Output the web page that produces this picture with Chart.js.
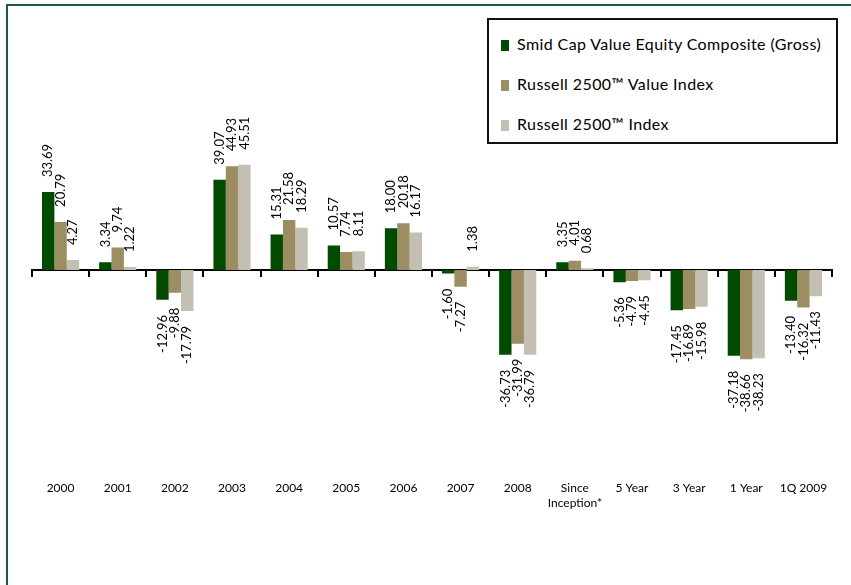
<!DOCTYPE html>
<html>
<head>
<meta charset="utf-8">
<script src="https://cdn.jsdelivr.net/npm/chart.js@4.4.1/dist/chart.umd.min.js"></script>
<style>
  html, body { margin: 0; padding: 0; background: #fff; }
  #wrap { position: relative; width: 851px; height: 585px; overflow: hidden; }
  #frame {
    position: absolute; left: 6px; top: 4px; right: -10px; bottom: -10px;
    border-left: 2px solid #1d5a46; border-top: 2px solid #1d5a46;
  }
  #legend {
    position: absolute; left: 487px; top: 18px; width: 347px; height: 122px;
    border: 2px solid #111; background: #fff;
    font-family: Lato, "Open Sans", sans-serif; font-size: 16px; letter-spacing: 0.4px; color: #000;
  }
  .item { position: absolute; left: 12px; height: 16px; line-height: 16px; white-space: nowrap; }
  .item span.box { display: inline-block; width: 8px; height: 11px; margin-right: 8px; vertical-align: -1px; }
  canvas { position: absolute; left: 0; top: 0; }
</style>
</head>
<body>
<div id="wrap">
  <div id="frame"></div>
  <canvas id="chart" width="851" height="585"></canvas>
  <div id="legend"></div>
</div>
<script>
const periods = ["2000", "2001", "2002", "2003", "2004", "2005", "2006", "2007", "2008",
  ["Since", "Inception*"], "5 Year", "3 Year", "1 Year", "1Q 2009"];
const composite = [33.69, 3.34, -12.96, 39.07, 15.31, 10.57, 18.00, -1.60, -36.73, 3.35, -5.36, -17.45, -37.18, -13.40];
const valueIndex = [20.79, 9.74, -9.88, 44.93, 21.58, 7.74, 20.18, -7.27, -31.99, 4.01, -4.79, -16.89, -38.66, -16.32];
const fullIndex = [4.27, 1.22, -17.79, 45.51, 18.29, 8.11, 16.17, 1.38, -36.79, 0.68, -4.45, -15.98, -38.23, -11.43];

const seriesNames = ["Smid Cap Value Equity Composite (Gross)", "Russell 2500\u2122 Value Index", "Russell 2500\u2122 Index"];
const seriesColors = ["#004b00", "#9d8d62", "#c3bfb3"];

// vertical value labels above / below each bar
const barLabels = {
  id: "barLabels",
  afterDatasetsDraw(chart) {
    const c = chart.ctx;
    const gap = 15;
    c.save();
    c.font = "13px Lato, 'Open Sans', sans-serif";
    c.fillStyle = "#000";
    c.textBaseline = "middle";
    chart.data.datasets.forEach((ds, i) => {
      chart.getDatasetMeta(i).data.forEach((bar, j) => {
        const v = ds.data[j];
        c.save();
        c.translate(bar.x, bar.y);
        c.rotate(-Math.PI / 2);
        if (v >= 0) {
          c.textAlign = "left";
          c.fillText(v.toFixed(2), gap, 0);
        } else {
          c.textAlign = "right";
          c.fillText(v.toFixed(2), -gap, 0);
        }
        c.restore();
      });
    });
    c.restore();
  }
};

const chart = new Chart(document.getElementById("chart"), {
  type: "bar",
  plugins: [barLabels],
  data: {
    labels: periods,
    datasets: [
      { label: seriesNames[0], data: composite, backgroundColor: seriesColors[0] },
      { label: seriesNames[1], data: valueIndex, backgroundColor: seriesColors[1] },
      { label: seriesNames[2], data: fullIndex, backgroundColor: seriesColors[2] },
    ],
  },
  options: {
    responsive: false,
    animation: false,
    categoryPercentage: 0.65,
    barPercentage: 1.0,
    layout: {
      padding: { left: 32, right: 19, top: 39, bottom: 68 },
    },
    plugins: {
      legend: { display: false },
      tooltip: { enabled: false },
    },
    scales: {
      y: {
        display: false,
        min: -85,
        max: 100,
      },
      x: {
        position: { y: 0 },
        grid: {
          drawOnChartArea: false,
          drawTicks: true,
          tickLength: 6,
          color: "#000",
          lineWidth: 2,
          offset: true,
        },
        border: { display: true, color: "#000", width: 2 },
        ticks: { display: false },
      },
      x2: {
        type: "category",
        position: "bottom",
        grid: { display: false },
        border: { display: false },
        ticks: {
          padding: 7,
          color: "#000",
          font: { family: "Lato, 'Open Sans', sans-serif", size: 12 },
          maxRotation: 0,
          autoSkip: false,
        },
      },
    },
  },
});

// legend box in the top right corner
const legendEl = document.getElementById("legend");
seriesNames.forEach((name, i) => {
  const item = document.createElement("div");
  item.className = "item";
  item.style.top = (16 + i * 40) + "px";
  item.innerHTML = '<span class="box" style="background:' + seriesColors[i] + '"></span>' + name;
  legendEl.appendChild(item);
});
</script>
</body>
</html>
